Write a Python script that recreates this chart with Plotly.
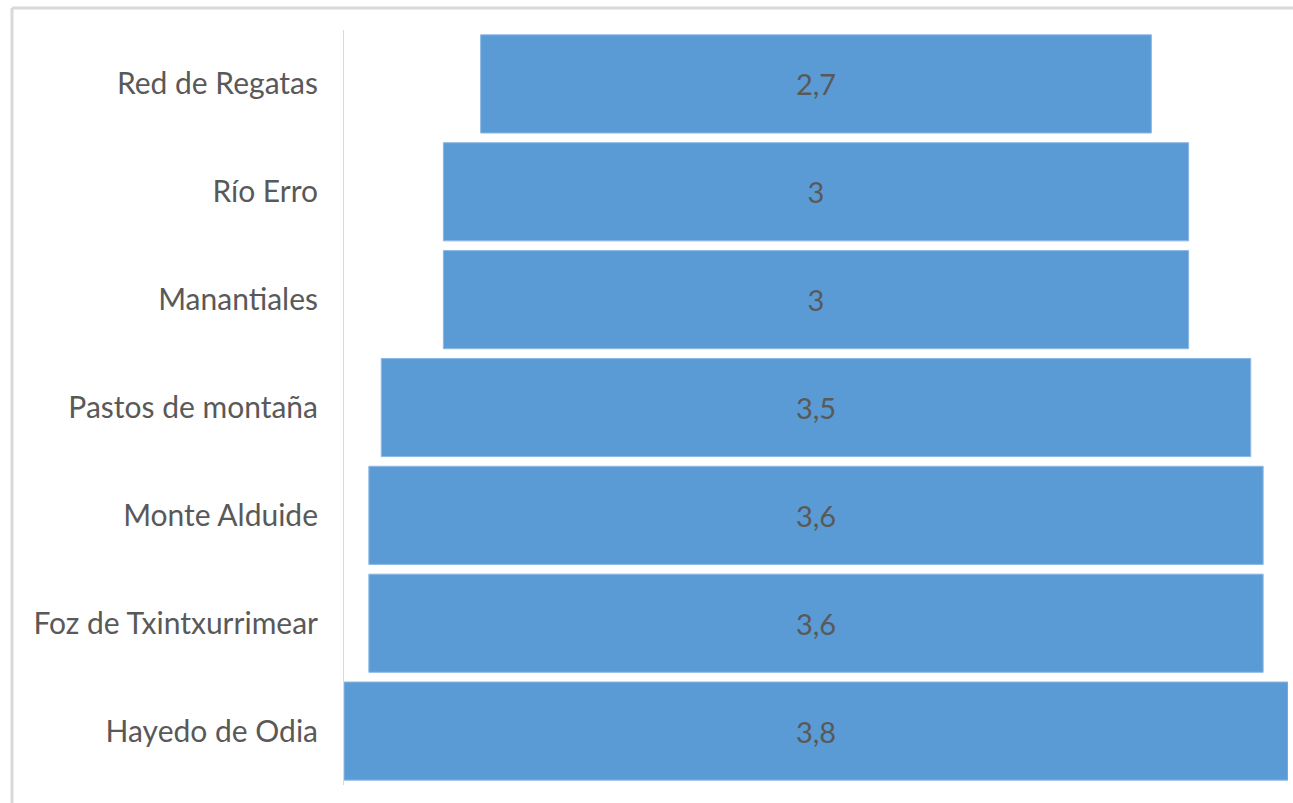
import plotly.graph_objects as go

# Funnel stages (top to bottom) and their scores
stages = ["Red de Regatas", "Río Erro", "Manantiales", "Pastos de montaña",
          "Monte Alduide", "Foz de Txintxurrimear", "Hayedo de Odia"]
scores = [2.7, 3.0, 3.0, 3.5, 3.6, 3.6, 3.8]
score_labels = ["2,7", "3", "3", "3,5", "3,6", "3,6", "3,8"]

W, H = 1293, 803
ml, mr, mt, mb = 344, 5, 30, 18
pw, ph = W - ml - mr, H - mt - mb

FONT = "Lato, 'Open Sans', sans-serif"

fig = go.Figure(go.Funnel(
    y=stages,
    x=scores,
    text=score_labels,
    textinfo="text",
    textposition="inside",
    insidetextanchor="middle",
    textfont=dict(family=FONT, size=29, color="#595959"),
    marker=dict(color="#5B9BD5", line=dict(color="#8DB8E4", width=1)),
    connector=dict(visible=False),
    hoverinfo="skip",
))

xmax = max(scores) / 2
fig.update_layout(
    width=W, height=H,
    margin=dict(l=ml, r=mr, t=mt, b=mb),
    paper_bgcolor="white", plot_bgcolor="white",
    funnelgap=0.09,
    showlegend=False,
    font=dict(family=FONT, size=30, color="#595959"),
    xaxis=dict(visible=False, range=[-xmax, xmax], fixedrange=True),
    yaxis=dict(
        showline=True, linecolor="#D9D9D9", linewidth=1,
        showgrid=False, zeroline=False, ticks="",
        ticklabelstandoff=19,
        tickfont=dict(family=FONT, size=30, color="#595959"),
    ),
)

# Thin frame along the top and left of the chart area
def px_x(p):
    return (p - ml) / pw

def px_y(p):
    return 1 - (p - mt) / ph

fig.add_shape(type="line", xref="paper", yref="paper",
              x0=px_x(12), x1=px_x(W), y0=px_y(8), y1=px_y(8),
              line=dict(color="#D9D9D9", width=3))
fig.add_shape(type="line", xref="paper", yref="paper",
              x0=px_x(12), x1=px_x(12), y0=px_y(8), y1=px_y(H),
              line=dict(color="#D9D9D9", width=3))

fig.write_html("out.html")
